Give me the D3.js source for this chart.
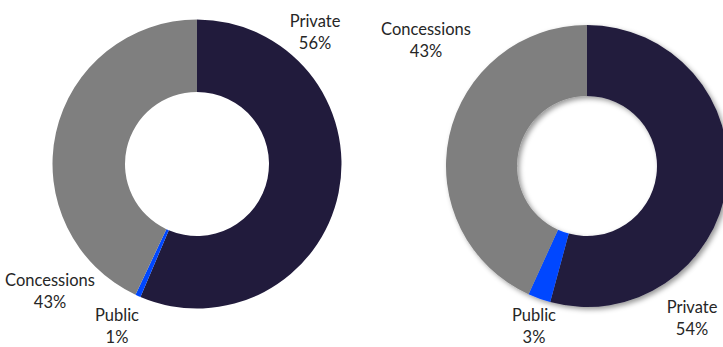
<!DOCTYPE html>
<html>
<head>
<meta charset="utf-8">
<script src="https://cdn.jsdelivr.net/npm/d3@7"></script>
<style>
  html, body { margin: 0; padding: 0; background: #fff; }
  svg text { font-family: Lato, "Open Sans", sans-serif; fill: #262626; }
</style>
</head>
<body>
<div id="chart"></div>
<script>
// shares, in draw order (clockwise from 12 o'clock)
var categories = ["Private", "Public", "Concessions"];
var leftValues = [56.4, 0.6, 43.0];
var rightValues = [54.2, 2.6, 43.2];
var leftLabels = ["56%", "1%", "43%"];
var rightLabels = ["54%", "3%", "43%"];
var colors = ["#211b3c", "#0047ff", "#7f7f7f"];

var width = 723, height = 347;

var svg = d3.select("#chart").append("svg")
  .attr("width", width)
  .attr("height", height);

// soft shadow used on the second ring
var defs = svg.append("defs");
var filter = defs.append("filter")
  .attr("id", "ringShadow")
  .attr("x", "-20%").attr("y", "-20%")
  .attr("width", "140%").attr("height", "140%");
filter.append("feDropShadow")
  .attr("dx", 2.5).attr("dy", 2.5)
  .attr("stdDeviation", 2.5)
  .attr("flood-color", "#000")
  .attr("flood-opacity", 0.4);

var color = d3.scaleOrdinal().domain(categories).range(colors);

function drawDonut(opts) {
  var data = categories.map(function (c, i) {
    return { name: c, value: opts.values[i], label: opts.labels[i] };
  });

  var pie = d3.pie().sort(null).value(function (d) { return d.value; });
  var arc = d3.arc().innerRadius(opts.inner).outerRadius(opts.outer);

  var g = svg.append("g")
    .attr("transform", "translate(" + opts.cx + "," + opts.cy + ")");
  if (opts.shadow) g.attr("filter", "url(#ringShadow)");

  g.selectAll("path")
    .data(pie(data))
    .enter()
    .append("path")
    .attr("d", arc)
    .attr("fill", function (d) { return color(d.data.name); });

  // two-line labels: name above, percentage below
  var lab = svg.selectAll(null)
    .data(data)
    .enter()
    .append("text")
    .attr("text-anchor", "middle")
    .style("font-size", "16.5px")
    .attr("x", function (d, i) { return opts.labelPos[i][0]; })
    .attr("y", function (d, i) { return opts.labelPos[i][1]; });
  lab.append("tspan").text(function (d) { return d.name; });
  lab.append("tspan")
    .attr("x", function (d, i) { return opts.labelPos[i][0]; })
    .attr("dy", 21.5)
    .text(function (d) { return d.label; });
}

drawDonut({
  values: leftValues, labels: leftLabels,
  cx: 197, cy: 164, outer: 144.5, inner: 72,
  labelPos: [[315, 27], [117, 321], [50, 286]],
  shadow: false
});

drawDonut({
  values: rightValues, labels: rightLabels,
  cx: 587, cy: 166, outer: 141, inner: 70,
  labelPos: [[692, 313], [534, 321], [426, 35]],
  shadow: true
});
</script>
</body>
</html>
